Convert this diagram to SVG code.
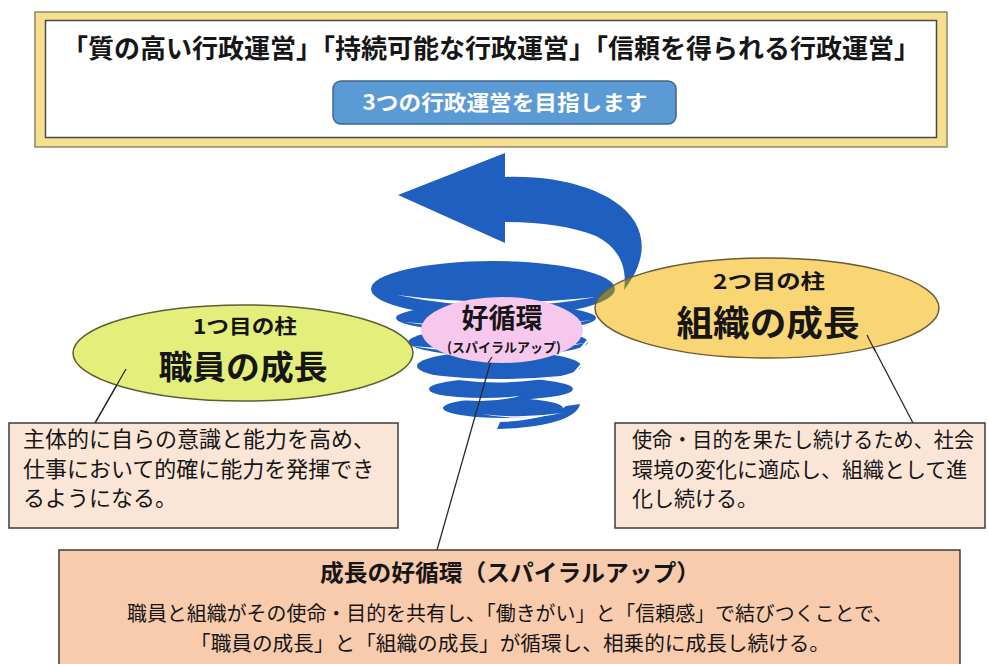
<svg xmlns="http://www.w3.org/2000/svg" xmlns:xlink="http://www.w3.org/1999/xlink" width="989" height="664" viewBox="0 0 989 664">
  <style>
    text { font-family: "Noto Sans CJK JP", "Noto Sans", sans-serif; fill: #161616; }
    .b { font-weight: bold; }
    .mid { text-anchor: middle; }
    .desc { fill: #fbe5d6; stroke: #3c3c3c; stroke-width: 1.5; }
    .lead { stroke: #2a2a2a; stroke-width: 1.3; fill: none; }
    .blue { fill: currentColor; }
    .gap { fill: var(--bg, #ffffff); }
  </style>
  <defs>
    <!-- upward spiral: stacked coils, curved white slivers between them, arrow leaving the top coil -->
    <g id="spiralShape">
      <g class="blue">
        <ellipse cx="503" cy="408" rx="60" ry="10"/>
        <ellipse cx="501" cy="389" rx="72" ry="11"/>
        <ellipse cx="499" cy="366" rx="82" ry="15"/>
        <ellipse cx="498" cy="342" rx="90" ry="14"/>
        <ellipse cx="496" cy="318" rx="100" ry="14"/>
        <ellipse cx="493" cy="289" rx="122" ry="28"/>
        <path d="M580,404 C577,420 540,428 497,429 L500,422 C530,421 555,415 566,406 Z"/>
        <path d="M398,195 L505,153 L505,177 C560,175 615,190 635,222 C648,245 641,268 624,290 C628,264 616,246 596,236 C570,226 540,222 505,222 L505,243 Z"/>
      </g>
      <g class="gap">
        <path d="M397,295 Q496,308 596,297 Q496,316 397,295 Z"/>
        <path d="M404,322 Q498,331 592,320 Q498,337 404,322 Z"/>
        <path d="M410,346 Q498,354 586,343 Q498,360 410,346 Z"/>
        <path d="M425,374 Q492,383 560,376 Q492,390 425,374 Z"/>
        <path d="M432,394 Q476,401 520,396 Q476,407 432,394 Z"/>
        <path d="M482,414 Q522,419 562,413 Q522,422 482,414 Z"/>
        <path d="M592,334 L596,332 L578,354 L574,355 Z"/>
        <path d="M584,360 L588,358 L570,380 L566,381 Z"/>
      </g>
    </g>
    <clipPath id="clipLeft"><ellipse cx="243" cy="353" rx="170" ry="48"/></clipPath>
    <clipPath id="clipRight"><ellipse cx="767" cy="308" rx="172" ry="50"/></clipPath>
  </defs>

  <rect width="989" height="664" fill="#ffffff"/>

  <!-- goal frame -->
  <g id="goal">
    <rect x="35" y="12" width="912" height="135" fill="#f6e08f" stroke="#8f8668" stroke-width="1.5"/>
    <rect x="45.5" y="20.5" width="891" height="117" fill="#ffffff" stroke="#4a4a4a" stroke-width="1.5"/>
    <text class="b mid" x="491" y="58" font-size="26" textLength="858" lengthAdjust="spacingAndGlyphs">「質の高い行政運営」「持続可能な行政運営」「信頼を得られる行政運営」</text>
  </g>

  <g id="goal-button">
    <rect x="333" y="81" width="343" height="43" rx="8" fill="#5b9bd5" stroke="#41648a" stroke-width="1.5"/>
    <text class="b mid" x="505" y="110" font-size="21" textLength="285" lengthAdjust="spacingAndGlyphs" style="fill:#ffffff">3つの行政運営を目指します</text>
  </g>

  <!-- spiral -->
  <g id="spiral">
    <use xlink:href="#spiralShape" href="#spiralShape" style="color:#1f5fbf; --bg:#ffffff"/>
  </g>

  <!-- connectors -->
  <g id="connectors">
    <line class="lead" x1="126" y1="369" x2="95" y2="423"/>
    <line class="lead" x1="492" y1="357" x2="437" y2="550"/>
    <line class="lead" x1="867" y1="335" x2="913" y2="423"/>
  </g>

  <g id="center">
    <ellipse cx="502" cy="330" rx="81" ry="33" fill="#f7c8ee"/>
    <text class="b mid" x="502" y="328" font-size="27">好循環</text>
    <text class="b mid" x="504" y="352" font-size="13">(スパイラルアップ)</text>
    <line class="lead" x1="492" y1="357" x2="488" y2="363"/>
  </g>

  <g id="pillar-1">
    <ellipse cx="243" cy="353" rx="170" ry="48" fill="#e4ef7b"/>
    <use xlink:href="#spiralShape" href="#spiralShape" clip-path="url(#clipLeft)" style="color:#64924a; --bg:#e4ef7b"/>
    <ellipse cx="243" cy="353" rx="170" ry="48" fill="none" stroke="#5d5d33" stroke-width="1.5"/>
    <text class="b mid" x="245" y="334" font-size="20" textLength="104" lengthAdjust="spacingAndGlyphs">1つ目の柱</text>
    <text class="b mid" x="243" y="379" font-size="33" textLength="169" lengthAdjust="spacingAndGlyphs">職員の成長</text>
    <line class="lead" x1="126" y1="369" x2="95" y2="423"/>
  </g>

  <g id="pillar-2">
    <ellipse cx="767" cy="308" rx="172" ry="50" fill="#f9d574"/>
    <use xlink:href="#spiralShape" href="#spiralShape" clip-path="url(#clipRight)" style="color:#7a8050; --bg:#f9d574"/>
    <ellipse cx="767" cy="308" rx="172" ry="50" fill="none" stroke="#6a5c33" stroke-width="1.5"/>
    <text class="b mid" x="769" y="289" font-size="20" textLength="112" lengthAdjust="spacingAndGlyphs">2つ目の柱</text>
    <text class="b mid" x="768" y="336" font-size="35" textLength="183" lengthAdjust="spacingAndGlyphs">組織の成長</text>
    <line class="lead" x1="867" y1="335" x2="875" y2="351"/>
  </g>

  <g id="desc-1">
    <rect class="desc" x="9" y="423" width="389" height="105"/>
    <text x="23" y="447" font-size="22">主体的に自らの意識と能力を高め、</text>
    <text x="23" y="477" font-size="22">仕事において的確に能力を発揮でき</text>
    <text x="23" y="506" font-size="22">るようになる。</text>
  </g>

  <g id="desc-2">
    <rect class="desc" x="615" y="423" width="370" height="105"/>
    <text x="632" y="447" font-size="21" textLength="342" lengthAdjust="spacingAndGlyphs">使命・目的を果たし続けるため、社会</text>
    <text x="632" y="477" font-size="21">環境の変化に適応し、組織として進</text>
    <text x="632" y="506" font-size="21">化し続ける。</text>
  </g>

  <g id="summary">
    <rect x="59" y="550" width="901" height="130" fill="#f8cbad" stroke="#3c3c3c" stroke-width="1.5"/>
    <text class="b mid" x="510" y="581" font-size="23" textLength="380" lengthAdjust="spacingAndGlyphs">成長の好循環（スパイラルアップ）</text>
    <text class="mid" x="510" y="621" font-size="20" textLength="766" lengthAdjust="spacingAndGlyphs">職員と組織がその使命・目的を共有し、「働きがい」と「信頼感」で結びつくことで、</text>
    <text class="mid" x="510" y="651" font-size="20.5" textLength="640" lengthAdjust="spacingAndGlyphs">「職員の成長」と「組織の成長」が循環し、相乗的に成長し続ける。</text>
  </g>
</svg>
